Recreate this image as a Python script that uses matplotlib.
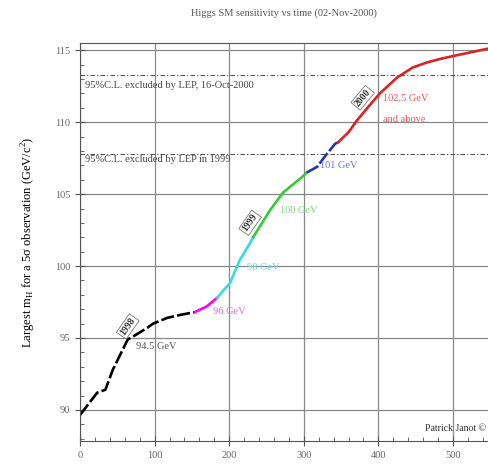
import matplotlib.pyplot as plt
from matplotlib.ticker import MultipleLocator

plt.rcParams['font.family'] = ['Liberation Serif', 'DejaVu Serif']

# sensitivity curve, one piece per beam energy
days_945 = [0, 23, 34, 44, 64, 71, 90, 98, 117, 134, 154]
mh_945 = [89.65, 91.2, 91.4, 92.8, 94.9, 95.1, 95.7, 96.0, 96.4, 96.6, 96.8]
days_96 = [154, 170, 184]
mh_96 = [96.8, 97.2, 97.8]
days_98 = [184, 192, 201, 214, 228, 232]
mh_98 = [97.8, 98.3, 98.8, 100.4, 101.6, 102.0]
days_100 = [232, 255, 272, 298, 304]
mh_100 = [102.0, 103.9, 105.1, 106.2, 106.5]
days_101 = [304, 318, 328, 342, 346]
mh_101 = [106.5, 106.9, 107.6, 108.5, 108.6]
days_1025 = [346, 360, 371, 387, 402, 425, 446, 465, 483, 505, 546]
mh_1025 = [108.6, 109.3, 110.1, 111.1, 112.0, 113.1, 113.8, 114.15, 114.4, 114.65, 115.1]

lep_2000 = 113.3
lep_1999 = 107.8

fig = plt.figure(figsize=(4.88, 4.68), dpi=100)
ax = fig.add_axes([0.164, 0.058, 0.836, 0.85])

ax.plot(days_945, mh_945, color='black', lw=1.9, dashes=(5, 1.2))
ax.plot(days_96, mh_96, color='magenta', lw=1.9)
ax.plot(days_98, mh_98, color='#33dddd', lw=1.9)
ax.plot(days_100, mh_100, color='#33cc33', lw=1.9)
ax.plot(days_101, mh_101, color='#2233bb', lw=1.9, dashes=(5, 1))
ax.plot(days_1025, mh_1025, color='#dd2222', lw=1.9)

ax.axhline(lep_2000, color='#555555', lw=0.8, ls=(0, (4, 2, 1, 2)))
ax.axhline(lep_1999, color='#555555', lw=0.8, ls=(0, (4, 2, 1, 2)))
ax.text(7, 112.4, '95%C.L. excluded by LEP, 16-Oct-2000', fontsize=7.5, color='#444444')
ax.text(7, 107.2, '95%C.L. excluded by LEP in 1999', fontsize=7.5, color='#444444')

ax.text(75, 94.2, '94.5 GeV', fontsize=7.5, color='#555555')
ax.text(178, 96.7, '96 GeV', fontsize=7.5, color='#ee66ee')
ax.text(224, 99.7, '98 GeV', fontsize=7.5, color='#66dddd')
ax.text(268, 103.7, '100 GeV', fontsize=7.5, color='#77dd77')
ax.text(322, 106.8, '101 GeV', fontsize=7.5, color='#6677dd')
ax.text(406, 111.5, '102.5 GeV', fontsize=7.5, color='#ee5555')
ax.text(406, 110.0, 'and above', fontsize=7.5, color='#ee5555')

box = dict(boxstyle='square,pad=0.15', fc='white', ec='#777777', lw=0.6)
ax.text(64, 95.8, '1998', fontsize=7, rotation=55, ha='center', va='center',
        fontweight='bold', color='#333333', bbox=box)
ax.text(228, 103.0, '1999', fontsize=7, rotation=55, ha='center', va='center',
        fontweight='bold', color='#333333', bbox=box)
ax.text(379, 111.7, '2000', fontsize=7, rotation=50, ha='center', va='center',
        fontweight='bold', color='#333333', bbox=box)

ax.text(0.995, 0.025, 'Patrick Janot \u00a9', transform=ax.transAxes, ha='right',
        fontsize=7, color='#333333')

ax.set_xlim(0, 547)
ax.set_ylim(87.85, 115.5)
ax.xaxis.set_major_locator(MultipleLocator(100))
ax.xaxis.set_minor_locator(MultipleLocator(20))
ax.yaxis.set_major_locator(MultipleLocator(5))
ax.yaxis.set_minor_locator(MultipleLocator(1))
ax.grid(True, which='major', color='#888888', lw=0.9)
ax.tick_params(which='major', direction='inout', length=7, labelsize=7.5,
               labelcolor='#666666', color='#555555')
ax.tick_params(which='minor', direction='in', length=3, color='#555555')
ax.spines['right'].set_visible(False)
for s in ['left', 'bottom', 'top']:
    ax.spines[s].set_color('#555555')

ax.set_ylabel('Largest m$_\\mathregular{H}$ for a 5\u03c3 observation (GeV/c$^\\mathregular{2}$)',
              fontsize=9, labelpad=12)
ax.set_title('Higgs SM sensitivity vs time (02-Nov-2000)', fontsize=7.5, color='#555555', pad=20)

fig.savefig('out.png', dpi=100)
